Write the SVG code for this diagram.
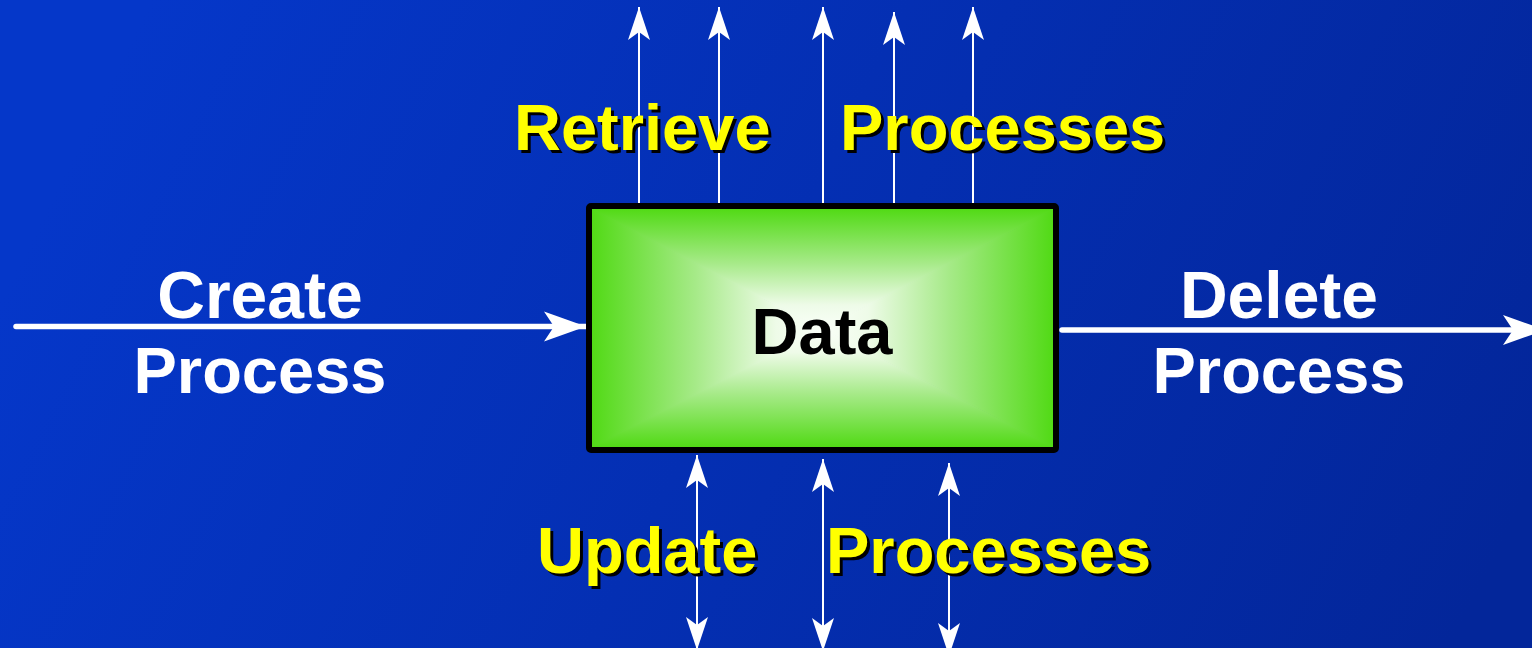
<svg xmlns="http://www.w3.org/2000/svg" width="1532" height="648" viewBox="0 0 1532 648">
  <defs>
    <linearGradient id="bg" gradientUnits="userSpaceOnUse" x1="150" y1="0" x2="1450" y2="648">
      <stop offset="0" stop-color="#0537C9"/>
      <stop offset="1" stop-color="#03269A"/>
    </linearGradient>
    <!-- rectangular "from centre" fill, built from four wedges -->
    <linearGradient id="gTop" gradientUnits="userSpaceOnUse" x1="0" y1="209" x2="0" y2="329">
      <stop offset="0" stop-color="#52DA16"/>
      <stop offset="0.45" stop-color="#A6EA88"/>
      <stop offset="0.8" stop-color="#EEFBE8"/>
      <stop offset="1" stop-color="#FAFFF8"/>
    </linearGradient>
    <linearGradient id="gBot" href="#gTop" y1="447" y2="329"/>
    <linearGradient id="gLeft" href="#gTop" x1="592" y1="0" x2="822" y2="0"/>
    <linearGradient id="gRight" href="#gTop" x1="1053" y1="0" x2="822" y2="0"/>
    <marker id="headLg" viewBox="-43 -16 44 32" refX="0" refY="0" markerWidth="44" markerHeight="32" markerUnits="userSpaceOnUse" orient="auto-start-reverse">
      <path d="M0,0 L-42,-15 L-32,0 L-42,15 Z" fill="#fff"/>
    </marker>
    <marker id="headSm" viewBox="-34 -12 35 24" refX="0" refY="0" markerWidth="35" markerHeight="24" markerUnits="userSpaceOnUse" orient="auto-start-reverse">
      <path d="M0,0 L-33,-11 L-25,0 L-33,11 Z" fill="#fff"/>
    </marker>
    <style>
      .lbl { font-family: "Liberation Sans", Arial, sans-serif; font-weight: bold; font-size: 66px; }
      .proc { font-size: 65px; }
      .white { fill: #fff; }
      .yellow { fill: #FFFF00; }
      .shadow { fill: #000; }
      .thick { stroke: #fff; stroke-width: 5.5; stroke-linecap: round; fill: none; }
      .thin { stroke: #fff; stroke-width: 2; fill: none; }
      .wedge { stroke-width: 1.2; stroke-linejoin: round; }
    </style>
  </defs>

  <rect width="1532" height="648" fill="url(#bg)"/>

  <g id="connectors">
    <!-- create / delete flows -->
    <line class="thick" x1="16" y1="326.5" x2="586" y2="326.5" marker-end="url(#headLg)"/>
    <line class="thick" x1="1062" y1="330" x2="1545" y2="330" marker-end="url(#headLg)"/>
    <!-- retrieval flows leaving the top -->
    <line class="thin" x1="639" y1="203" x2="639" y2="7" marker-end="url(#headSm)"/>
    <line class="thin" x1="719" y1="203" x2="719" y2="7" marker-end="url(#headSm)"/>
    <line class="thin" x1="823" y1="203" x2="823" y2="7" marker-end="url(#headSm)"/>
    <line class="thin" x1="894" y1="203" x2="894" y2="12" marker-end="url(#headSm)"/>
    <line class="thin" x1="973" y1="203" x2="973" y2="7" marker-end="url(#headSm)"/>
    <!-- two-way update flows at the bottom -->
    <line class="thin" x1="697" y1="455" x2="697" y2="650" marker-start="url(#headSm)" marker-end="url(#headSm)"/>
    <line class="thin" x1="823" y1="459" x2="823" y2="651" marker-start="url(#headSm)" marker-end="url(#headSm)"/>
    <line class="thin" x1="949" y1="463" x2="949" y2="656" marker-start="url(#headSm)" marker-end="url(#headSm)"/>
  </g>

  <g id="data">
    <polygon class="wedge" points="592,209 1053,209 822,329" fill="url(#gTop)" stroke="url(#gTop)"/>
    <polygon class="wedge" points="592,447 1053,447 822,329" fill="url(#gBot)" stroke="url(#gBot)"/>
    <polygon class="wedge" points="592,209 592,447 822,329" fill="url(#gLeft)" stroke="url(#gLeft)"/>
    <polygon class="wedge" points="1053,209 1053,447 822,329" fill="url(#gRight)" stroke="url(#gRight)"/>
    <rect x="589" y="206" width="467" height="244" rx="2" fill="none" stroke="#000" stroke-width="6"/>
    <text class="lbl" x="822" y="354" text-anchor="middle" fill="#000" style="font-size:65px">Data</text>
  </g>

  <g id="create">
    <text class="lbl white" x="260" y="318" text-anchor="middle">Create</text>
    <text class="lbl white proc" x="260" y="393" text-anchor="middle">Process</text>
  </g>

  <g id="delete">
    <text class="lbl white" x="1279" y="318" text-anchor="middle">Delete</text>
    <text class="lbl white proc" x="1279" y="393" text-anchor="middle">Process</text>
  </g>

  <g id="retrieve">
    <text class="lbl proc shadow" x="517" y="153">Retrieve</text>
    <text class="lbl proc shadow" x="843" y="153">Processes</text>
    <text class="lbl proc yellow" x="514" y="150">Retrieve</text>
    <text class="lbl proc yellow" x="840" y="150">Processes</text>
  </g>

  <g id="update">
    <text class="lbl proc shadow" x="540" y="576">Update</text>
    <text class="lbl proc shadow" x="829" y="576">Processes</text>
    <text class="lbl proc yellow" x="537" y="573">Update</text>
    <text class="lbl proc yellow" x="826" y="573">Processes</text>
  </g>
</svg>
